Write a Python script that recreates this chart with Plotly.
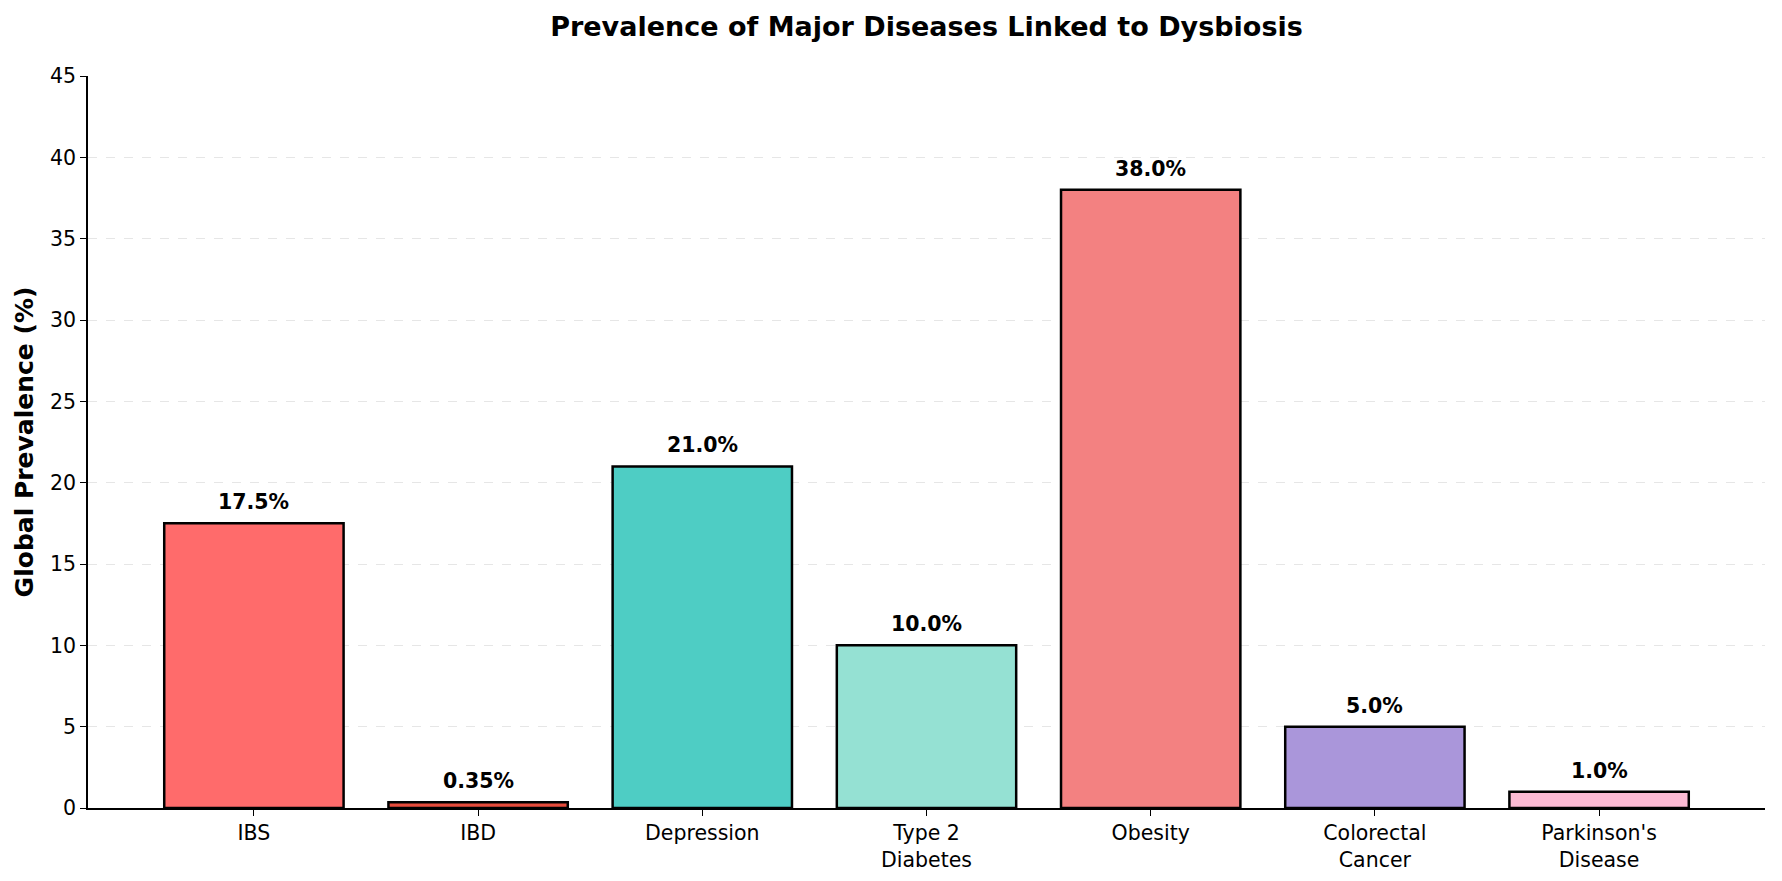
import plotly.graph_objects as go

categories = ["IBS", "IBD", "Depression", "Type 2<br>Diabetes", "Obesity", "Colorectal<br>Cancer", "Parkinson's<br>Disease"]
values = [17.5, 0.35, 21.0, 10.0, 38.0, 5.0, 1.0]
labels = ["17.5%", "0.35%", "21.0%", "10.0%", "38.0%", "5.0%", "1.0%"]
colors = ["#FF6B6B", "#E74C3C", "#4ECDC4", "#95E1D3", "#F38181", "#AA96DA", "#FCBAD3"]

x = list(range(len(categories)))

fig = go.Figure()
fig.add_trace(go.Bar(
    x=x, y=values, width=0.8,
    marker=dict(color=colors, line=dict(color="black", width=2.5)),
    hoverinfo="skip",
))

for xi, v, t in zip(x, values, labels):
    fig.add_annotation(x=xi, y=v, text="<b>" + t + "</b>", showarrow=False,
                       yanchor="bottom", yshift=7,
                       font=dict(family="DejaVu Sans", size=20.5, color="black"))

fig.update_layout(
    width=1782, height=881,
    margin=dict(l=88, r=17, t=76, b=73, autoexpand=False),
    plot_bgcolor="white", paper_bgcolor="white",
    font=dict(family="DejaVu Sans", size=20.5, color="black"),
    showlegend=False,
    title=dict(text="<b>Prevalence of Major Diseases Linked to Dysbiosis</b>",
               xref="paper", x=0.5, xanchor="center", y=0.97, yanchor="middle",
               font=dict(family="DejaVu Sans", size=27, color="black")),
    xaxis=dict(range=[-0.74, 6.74], tickvals=x, ticktext=categories,
               showline=True, linecolor="black", linewidth=1.5,
               ticks="outside", ticklen=6, tickcolor="black", tickwidth=1.2,
               showgrid=False, zeroline=False, automargin=False,
               tickfont=dict(family="DejaVu Sans", size=20.5)),
    yaxis=dict(range=[0, 45], tickvals=[0, 5, 10, 15, 20, 25, 30, 35, 40, 45],
               showline=True, linecolor="black", linewidth=1.5,
               ticks="outside", ticklen=6, tickcolor="black", tickwidth=1.2,
               showgrid=True, gridcolor="#E6E6E6", griddash="dash", gridwidth=1,
               zeroline=False, automargin=False,
               title=dict(text="<b>Global Prevalence (%)</b>", standoff=9,
                          font=dict(family="DejaVu Sans", size=25)),
               tickfont=dict(family="DejaVu Sans", size=20.5)),
)

fig.write_html("out.html")
